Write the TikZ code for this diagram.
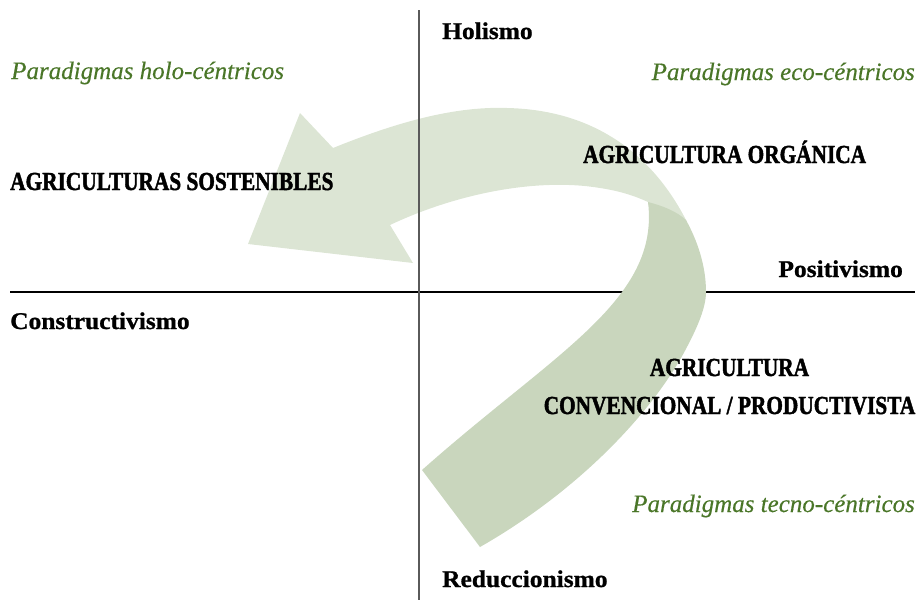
\documentclass[tikz,border=0pt]{standalone}
\usepackage{fontspec}
\setmainfont{Liberation Serif}
\newfontfamily\capsfont[FakeStretch=0.82, BoldFeatures={FakeBold=1.6}]{Liberation Serif}
\newfontfamily\wordfont[FakeStretch=1.06, BoldFeatures={FakeBold=0.9}]{Liberation Serif}
\newfontfamily\parafont[ItalicFeatures={FakeBold=0.35}]{Liberation Serif}
\definecolor{lightband}{RGB}{220,229,212}
\definecolor{darkband}{RGB}{201,214,189}
\definecolor{paragreen}{RGB}{74,118,40}
\definecolor{vaxis}{RGB}{90,90,90}
\tikzset{
  caplabel/.style={inner sep=0pt, font=\capsfont\bfseries\fontsize{26}{30}\selectfont, text=black},
  wordlabel/.style={inner sep=0pt, font=\wordfont\bfseries\fontsize{24}{28}\selectfont, text=black},
  paralabel/.style={inner sep=0pt, font=\parafont\itshape\fontsize{25}{30}\selectfont, text=paragreen},
}
\begin{document}
\begin{tikzpicture}[x=1pt,y=-1pt]
\useasboundingbox (0,0) rectangle (920,600);
% axis coordinates
\coordinate (hleft) at (10,292);
\coordinate (hright) at (915,292);
\coordinate (vtop) at (419,10);
\coordinate (vbottom) at (419,600);
% horizontal axis (behind the arrow)
\draw[black, line width=1.1pt] (hleft) -- (hright);
% light part of the arrow (head and upper band)
\fill[lightband] (333,148) -- (300,113) -- (248,244) -- (413,263) -- (390,225)
  .. controls (460,192) and (540,178) .. (600,188)
  .. controls (620,191) and (635,196) .. (648,202)
  -- (660,250) -- (695,255) -- (686,220)
  .. controls (655,160) and (600,110) .. (507,108)
  .. controls (450,106) and (390,125) .. (333,148) -- cycle;
% darker part of the arrow (lower band and tail)
\fill[darkband] (648,202)
  .. controls (663,206) and (676,211) .. (686,220)
  .. controls (697,240) and (706,265) .. (706,292)
  .. controls (706,305) and (700,322) .. (688,345)
  .. controls (655,410) and (580,490) .. (480,547)
  -- (422,470)
  .. controls (555,352) and (660,300) .. (648,202) -- cycle;
% vertical axis (over the arrow)
\draw[vaxis, line width=1.3pt] (vtop) -- (vbottom);
% labels
\node[wordlabel, anchor=base west] (holismo) at (442,39) {Holismo};
\node[wordlabel, anchor=base west] (reduc) at (442,587) {Reduccionismo};
\node[wordlabel, anchor=base west] (constr) at (10,329) {Constructivismo};
\node[wordlabel, anchor=base east] (posit) at (903,277) {Positivismo};
\node[paralabel, anchor=base west] (holo) at (11,79) {Paradigmas holo-céntricos};
\node[paralabel, anchor=base east] (eco) at (915,80) {Paradigmas eco-céntricos};
\node[paralabel, anchor=base east] (tecno) at (915,512) {Paradigmas tecno-céntricos};
\node[caplabel, anchor=base west] (sost) at (10,190) {AGRICULTURAS SOSTENIBLES};
\node[caplabel, anchor=base west] (organ) at (583,163) {AGRICULTURA ORGÁNICA};
\node[caplabel, anchor=base] (conv1) at (729.5,376) {AGRICULTURA};
\node[caplabel, anchor=base] (conv2) at (729.5,414) {CONVENCIONAL / PRODUCTIVISTA};
\end{tikzpicture}
\end{document}
